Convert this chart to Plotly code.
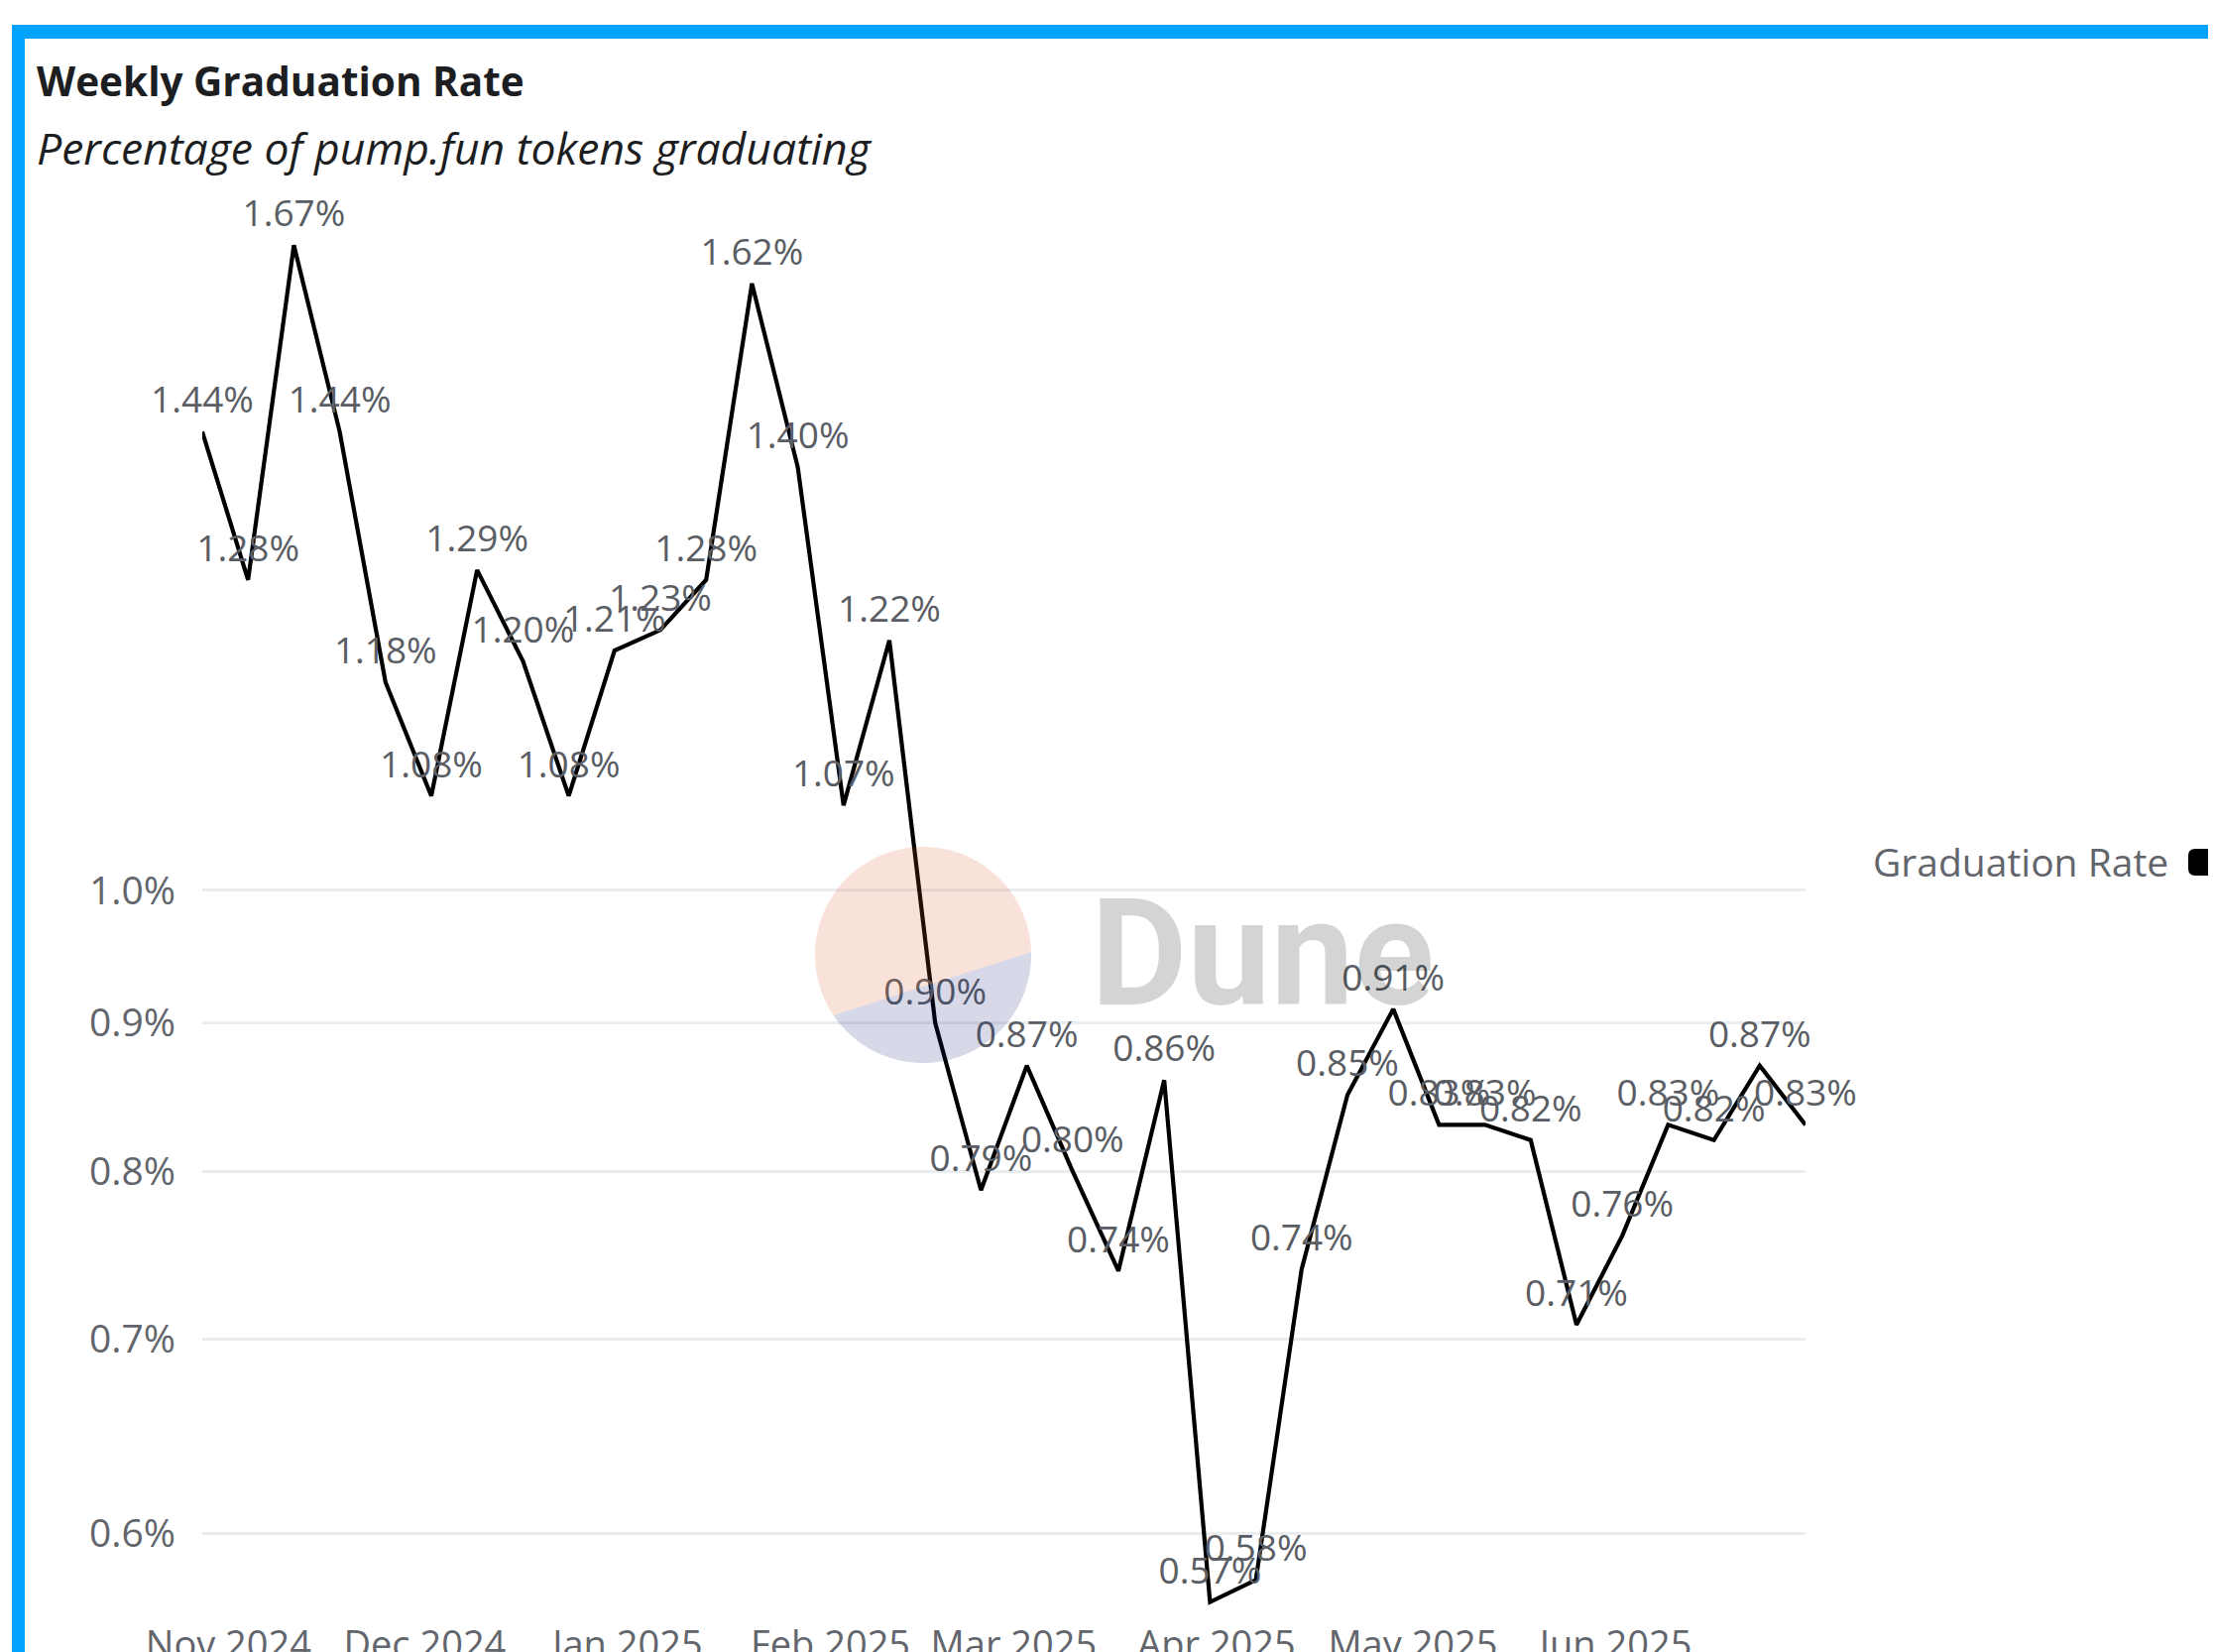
import numpy as np
import plotly.graph_objects as go

# ---------------- data ----------------
weeks = [
    "2024-10-28", "2024-11-04", "2024-11-11", "2024-11-18", "2024-11-25",
    "2024-12-02", "2024-12-09", "2024-12-16", "2024-12-23", "2024-12-30",
    "2025-01-06", "2025-01-13", "2025-01-20", "2025-01-27",
    "2025-02-03", "2025-02-10", "2025-02-17", "2025-02-24",
    "2025-03-03", "2025-03-10", "2025-03-17", "2025-03-24", "2025-03-31",
    "2025-04-07", "2025-04-14", "2025-04-21", "2025-04-28",
    "2025-05-05", "2025-05-12", "2025-05-19", "2025-05-26",
    "2025-06-02", "2025-06-09", "2025-06-16", "2025-06-23", "2025-06-30",
]
graduation_rate = [
    1.44, 1.28, 1.67, 1.44, 1.18, 1.078, 1.29, 1.20, 1.078, 1.21,
    1.23, 1.28, 1.62, 1.40, 1.07, 1.22, 0.90, 0.788, 0.87, 0.80,
    0.739, 0.86, 0.568, 0.578, 0.74, 0.85, 0.91, 0.83, 0.83, 0.82,
    0.708, 0.76, 0.83, 0.82, 0.87, 0.83,
]
y_ticks = [0.6, 0.7, 0.8, 0.9, 1.0]
y_ticktext = ["0.6%", "0.7%", "0.8%", "0.9%", "1.0%"]
series_name = "Graduation Rate"
title = "Weekly Graduation Rate"
subtitle = "Percentage of pump.fun tokens graduating"

# ---------------- layout geometry ----------------
# page pixels; the page body has an 8px margin, so the figure is offset by 8px
OFF = 8
PAGE_W, PAGE_H = 2235, 1666
FW, FH = PAGE_W - OFF, PAGE_H - OFF
L, R, T, B = 204, 1821, 230, 1625          # plot area in page pixels
PW, PH = R - L, B - T


def px(x):
    return (x - L) / PW


def py(y):
    return (B - y) / PH


LABEL_FONT = "Open Sans, Noto Sans, sans-serif"
TITLE_FONT = "Open Sans, sans-serif"
LOGO_FONT = "Roboto, sans-serif"

fig = go.Figure()
fig.add_trace(go.Scatter(
    x=weeks, y=graduation_rate, name=series_name,
    mode="lines+markers+text",
    line=dict(color="#000000", width=4.2),
    marker=dict(size=14, color="rgba(0,0,0,0)", line=dict(width=0)),
    texttemplate="%{y:.2f}%",
    textposition="top center",
    textfont=dict(family=LABEL_FONT, size=37, color="#5a5e64"),
    cliponaxis=False,
    showlegend=False,
))

shapes = []
# blue selection frame
shapes.append(dict(type="rect", xref="paper", yref="paper",
                   x0=px(12), x1=px(PAGE_W + 20), y0=py(39), y1=py(25),
                   fillcolor="#00a2ff", line=dict(width=0), layer="above"))
shapes.append(dict(type="rect", xref="paper", yref="paper",
                   x0=px(12), x1=px(25), y0=py(PAGE_H + 20), y1=py(25),
                   fillcolor="#00a2ff", line=dict(width=0), layer="above"))

# Dune watermark pie: upper (orange) and lower (navy) segments
cx, cy, rr = 931, 963, 109


def segment(a0, a1):
    ang = np.radians(np.linspace(a0, a1, 80))
    pts = [(cx + rr * np.cos(a), cy - rr * np.sin(a)) for a in ang]
    return "M " + " L ".join(f"{px(x):.5f},{py(y):.5f}" for x, y in pts) + " Z"


shapes.append(dict(type="path", xref="paper", yref="paper", path=segment(1.6, 214),
                   fillcolor="rgba(222,83,33,0.17)", line=dict(width=0), layer="above"))
shapes.append(dict(type="path", xref="paper", yref="paper", path=segment(214, 361.6),
                   fillcolor="rgba(22,27,116,0.17)", line=dict(width=0), layer="above"))


# legend marker (rounded square, symbol to the right of the text)
def rounded_rect(x0, y0, x1, y1, r):
    p = [
        f"M {px(x0 + r)},{py(y0)}",
        f"L {px(x1 - r)},{py(y0)}",
        f"Q {px(x1)},{py(y0)} {px(x1)},{py(y0 + r)}",
        f"L {px(x1)},{py(y1 - r)}",
        f"Q {px(x1)},{py(y1)} {px(x1 - r)},{py(y1)}",
        f"L {px(x0 + r)},{py(y1)}",
        f"Q {px(x0)},{py(y1)} {px(x0)},{py(y1 - r)}",
        f"L {px(x0)},{py(y0 + r)}",
        f"Q {px(x0)},{py(y0)} {px(x0 + r)},{py(y0)}",
        "Z",
    ]
    return " ".join(p)


shapes.append(dict(type="path", xref="paper", yref="paper",
                   path=rounded_rect(2207, 856, 2240, 883, 7),
                   fillcolor="#000000", line=dict(width=0), layer="above"))

annotations = [
    dict(text=f"<b>{title}</b>", x=px(35), y=py(81), xref="paper", yref="paper",
         xanchor="left", yanchor="middle", showarrow=False,
         font=dict(family=TITLE_FONT, size=40.5, color="#1d1e22")),
    dict(text=f"<i>{subtitle}</i>", x=px(35), y=py(148), xref="paper", yref="paper",
         xanchor="left", yanchor="middle", showarrow=False,
         font=dict(family=TITLE_FONT, size=44.5, color="#1d1e22")),
    dict(text=series_name, x=px(2189), y=py(869), xref="paper", yref="paper",
         xanchor="right", yanchor="middle", showarrow=False,
         font=dict(family=LABEL_FONT, size=39, color="#62666c")),
    dict(text="<b>Dune</b>", x=px(1273), y=py(962), xref="paper", yref="paper",
         xanchor="center", yanchor="middle", showarrow=False,
         font=dict(family=LOGO_FONT, size=150, color="rgba(0,0,0,0.17)")),
]

fig.update_layout(
    width=FW, height=FH, autosize=False,
    margin=dict(l=L - OFF, r=FW - (R - OFF), t=T - OFF, b=FH - (B - OFF), pad=0),
    paper_bgcolor="#ffffff", plot_bgcolor="#ffffff",
    shapes=shapes, annotations=annotations,
    showlegend=False,
)
fig.update_xaxes(
    type="date", range=[weeks[0], weeks[-1]],
    tickformat="%b %Y", dtick="M1", tick0="2024-11-01",
    showgrid=False, zeroline=False, showline=False, ticks="",
    ticklabelstandoff=8, automargin=False,
    tickfont=dict(family=LABEL_FONT, size=38, color="#62666c"),
)
fig.update_yaxes(
    type="log", range=[np.log10(0.5638), np.log10(1.693)],
    tickvals=y_ticks, ticktext=y_ticktext,
    showgrid=True, gridcolor="#e9edf0", gridwidth=3,
    zeroline=False, showline=False, ticks="",
    ticklabelstandoff=26, automargin=False,
    tickfont=dict(family=LABEL_FONT, size=39, color="#62666c"),
)

fig.write_html("out.html")
